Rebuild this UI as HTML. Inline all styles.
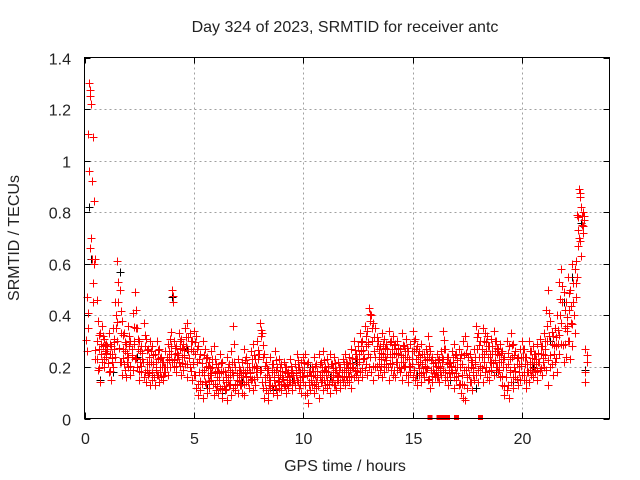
<!DOCTYPE html>
<html><head><meta charset="utf-8"><style>
body{margin:0;background:#fff;}
svg{display:block;font-family:"Liberation Sans",sans-serif;}
</style></head><body>
<svg id="chart" width="640" height="480" xmlns="http://www.w3.org/2000/svg">
<text x="345" y="32" font-size="16" text-anchor="middle" fill="#222">Day 324 of 2023, SRMTID for receiver antc</text>
<text transform="translate(19,238) rotate(-90)" font-size="16" text-anchor="middle" fill="#222">SRMTID / TECUs</text>
<text x="345" y="471" font-size="16" text-anchor="middle" fill="#222">GPS time / hours</text>
<g id="grid" shape-rendering="crispEdges"></g>
<g id="ticks"></g>
<g id="marks" shape-rendering="crispEdges"></g>
<rect x="84.5" y="57.5" width="525" height="361" fill="none" stroke="#000" stroke-width="1" shape-rendering="crispEdges"/>
</svg>
<script>
const xTicks=[0,5,10,15,20];
const yTicks=[0,0.2,0.4,0.6,0.8,1,1.2,1.4];
const yTickLabels=["0","0.2","0.4","0.6","0.8","1","1.2","1.4"];
const times=[0.1,0.2,0.3,0.4,0.5,0.6,0.7,0.8,0.9,1.0,1.1,1.2,1.3,1.4,1.5,1.6,1.7,1.8,1.9,2.0,2.1,2.2,2.3,2.4,2.5,2.6,2.7,2.8,2.9,3.0,3.1,3.2,3.3,3.4,3.5,3.6,3.7,3.8,3.9,4.0,4.1,4.2,4.3,4.4,4.5,4.6,4.7,4.8,4.9,5.0,5.1,5.2,5.3,5.4,5.5,5.6,5.7,5.8,5.9,6.0,6.1,6.2,6.3,6.4,6.5,6.6,6.7,6.8,6.9,7.0,7.1,7.2,7.3,7.4,7.5,7.6,7.7,7.8,7.9,8.0,8.1,8.2,8.3,8.4,8.5,8.6,8.7,8.8,8.9,9.0,9.1,9.2,9.3,9.4,9.5,9.6,9.7,9.8,9.9,10.0,10.1,10.2,10.3,10.4,10.5,10.6,10.7,10.8,10.9,11.0,11.1,11.2,11.3,11.4,11.5,11.6,11.7,11.8,11.9,12.0,12.1,12.2,12.3,12.4,12.5,12.6,12.7,12.8,12.9,13.0,13.1,13.2,13.3,13.4,13.5,13.6,13.7,13.8,13.9,14.0,14.1,14.2,14.3,14.4,14.5,14.6,14.7,14.8,14.9,15.0,15.1,15.2,15.3,15.4,15.5,15.6,15.7,15.8,15.9,16.0,16.1,16.2,16.3,16.4,16.5,16.6,16.7,16.8,16.9,17.0,17.1,17.2,17.3,17.4,17.5,17.6,17.7,17.8,17.9,18.0,18.1,18.2,18.3,18.4,18.5,18.6,18.7,18.8,18.9,19.0,19.1,19.2,19.3,19.4,19.5,19.6,19.7,19.8,19.9,20.0,20.1,20.2,20.3,20.4,20.5,20.6,20.7,20.8,20.9,21.0,21.1,21.2,21.3,21.4,21.5,21.6,21.7,21.8,21.9,22.0,22.1,22.2,22.3,22.4,22.5,22.6,22.7,22.8,22.9];
const redUpper=[0.47,1.30,1.22,1.09,0.62,0.38,0.33,0.36,0.31,0.29,
0.33,0.28,0.35,0.45,0.61,0.50,0.38,0.33,0.29,0.36,
0.30,0.41,0.49,0.35,0.30,0.28,0.37,0.31,0.27,0.30,
0.28,0.25,0.30,0.27,0.24,0.22,0.26,0.29,0.31,0.50,
0.30,0.28,0.33,0.31,0.29,0.35,0.37,0.33,0.30,0.34,
0.32,0.28,0.25,0.30,0.27,0.24,0.22,0.26,0.28,0.21,
0.20,0.25,0.22,0.18,0.24,0.21,0.26,0.36,0.20,0.23,
0.19,0.22,0.27,0.24,0.20,0.26,0.29,0.23,0.30,0.37,
0.33,0.25,0.22,0.19,0.24,0.21,0.26,0.20,0.23,0.21,
0.22,0.20,0.18,0.23,0.19,0.21,0.25,0.20,0.22,0.24,
0.25,0.22,0.18,0.20,0.24,0.21,0.25,0.22,0.26,0.20,
0.23,0.25,0.21,0.24,0.19,0.22,0.20,0.23,0.25,0.21,
0.24,0.27,0.30,0.25,0.28,0.33,0.30,0.36,0.34,0.43,
0.40,0.37,0.35,0.30,0.28,0.33,0.31,0.29,0.34,0.30,
0.32,0.29,0.30,0.27,0.33,0.28,0.31,0.26,0.29,0.34,
0.31,0.28,0.26,0.29,0.25,0.27,0.32,0.26,0.24,0.22,
0.25,0.23,0.26,0.34,0.27,0.24,0.22,0.26,0.29,0.25,
0.27,0.25,0.30,0.32,0.28,0.25,0.22,0.27,0.36,0.33,
0.30,0.35,0.33,0.32,0.28,0.31,0.34,0.30,0.27,0.29,
0.26,0.24,0.30,0.28,0.33,0.29,0.26,0.24,0.27,0.30,
0.27,0.24,0.30,0.26,0.28,0.25,0.29,0.31,0.28,0.33,
0.42,0.50,0.38,0.32,0.35,0.40,0.53,0.58,0.49,0.45,
0.55,0.50,0.60,0.58,0.79,0.89,0.82,0.80,0.27];
const redLower=[0.26,0.96,0.70,0.45,0.23,0.19,0.14,0.22,0.20,0.24,
0.18,0.15,0.20,0.24,0.30,0.22,0.17,0.21,0.16,0.20,
0.17,0.19,0.23,0.20,0.15,0.18,0.16,0.14,0.17,0.13,
0.15,0.13,0.17,0.14,0.16,0.15,0.18,0.17,0.20,0.22,
0.20,0.18,0.22,0.17,0.19,0.21,0.16,0.20,0.15,0.17,
0.12,0.09,0.11,0.08,0.14,0.10,0.12,0.15,0.09,0.11,
0.10,0.12,0.08,0.11,0.07,0.13,0.09,0.12,0.11,0.10,
0.13,0.10,0.09,0.14,0.12,0.15,0.11,0.13,0.16,0.18,
0.14,0.08,0.11,0.07,0.12,0.10,0.13,0.09,0.12,0.11,
0.13,0.10,0.12,0.14,0.11,0.13,0.15,0.12,0.10,0.14,
0.09,0.06,0.11,0.13,0.10,0.12,0.08,0.14,0.11,0.13,
0.12,0.10,0.14,0.13,0.11,0.15,0.12,0.14,0.13,0.15,
0.14,0.12,0.16,0.17,0.15,0.18,0.16,0.19,0.17,0.20,
0.18,0.15,0.20,0.17,0.19,0.16,0.18,0.20,0.15,0.19,
0.17,0.16,0.19,0.18,0.15,0.20,0.17,0.14,0.18,0.16,
0.15,0.13,0.17,0.14,0.16,0.18,0.15,0.12,0.14,0.16,
0.16,0.14,0.17,0.19,0.15,0.13,0.16,0.18,0.12,0.15,
0.13,0.10,0.08,0.07,0.12,0.14,0.11,0.15,0.17,0.14,
0.17,0.14,0.18,0.16,0.15,0.19,0.17,0.20,0.18,0.16,
0.13,0.09,0.11,0.08,0.14,0.12,0.16,0.13,0.15,0.17,
0.15,0.12,0.14,0.17,0.16,0.18,0.15,0.19,0.17,0.20,
0.19,0.13,0.20,0.17,0.22,0.18,0.25,0.29,0.22,0.24,
0.30,0.23,0.28,0.33,0.55,0.70,0.63,0.72,0.14];
const redMid=[0.35,1.25,0.62,0.60,0.30,0.27,0.25,0.28,0.26,0.27,
0.25,0.22,0.27,0.35,0.45,0.33,0.27,0.26,0.22,0.28,
0.24,0.30,0.35,0.27,0.22,0.23,0.28,0.22,0.21,0.22,
0.21,0.19,0.23,0.20,0.20,0.18,0.22,0.23,0.25,0.45,
0.25,0.23,0.27,0.24,0.24,0.28,0.26,0.27,0.22,0.25,
0.22,0.18,0.18,0.19,0.20,0.17,0.17,0.20,0.18,0.16,
0.15,0.18,0.15,0.14,0.16,0.17,0.18,0.22,0.15,0.17,
0.16,0.16,0.18,0.19,0.16,0.20,0.20,0.18,0.23,0.32,
0.24,0.16,0.17,0.13,0.18,0.15,0.19,0.14,0.17,0.16,
0.18,0.15,0.15,0.18,0.15,0.17,0.20,0.16,0.16,0.19,
0.17,0.14,0.15,0.17,0.17,0.16,0.17,0.18,0.19,0.17,
0.18,0.17,0.18,0.19,0.15,0.18,0.16,0.19,0.19,0.18,
0.19,0.20,0.23,0.21,0.22,0.26,0.23,0.28,0.25,0.38,
0.30,0.26,0.28,0.24,0.23,0.25,0.24,0.25,0.25,0.24,
0.25,0.22,0.25,0.22,0.24,0.24,0.24,0.20,0.23,0.26,
0.23,0.21,0.22,0.21,0.20,0.23,0.24,0.19,0.19,0.19,
0.20,0.18,0.22,0.27,0.21,0.19,0.19,0.22,0.20,0.20,
0.20,0.17,0.19,0.19,0.20,0.20,0.17,0.21,0.27,0.24,
0.24,0.25,0.26,0.24,0.22,0.25,0.26,0.25,0.22,0.22,
0.20,0.16,0.21,0.18,0.24,0.20,0.21,0.18,0.21,0.24,
0.21,0.18,0.22,0.21,0.22,0.21,0.22,0.25,0.22,0.27,
0.30,0.32,0.29,0.25,0.28,0.29,0.40,0.45,0.35,0.34,
0.42,0.37,0.45,0.47,0.67,0.86,0.75,0.77,0.22];
const zeroTimes=[15.8,16.2,16.4,16.6,17.0,18.1];
const blackTimes=[0.2,0.3,0.7,1.3,1.6,2.4,3.1,4.0,4.7,5.6,6.3,7.2,8.0,8.6,9.5,10.3,11.2,12.4,13.1,14.0,15.2,16.7,17.9,18.8,19.6,20.5,21.3,21.9,22.3,22.7,22.9];
const blackValues=[0.82,0.62,0.15,0.18,0.57,0.24,0.17,0.47,0.27,0.12,0.10,0.14,0.19,0.11,0.15,0.20,0.16,0.22,0.40,0.19,0.17,0.15,0.12,0.18,0.14,0.20,0.30,0.45,0.55,0.76,0.19];

const NS="http://www.w3.org/2000/svg";
const X0=84.5,X1=609.5,Y0=418.5,Y1=57.5;
function xs(t){return X0+(t/24)*(X1-X0);}
function ys(v){return Y0-(v/1.4)*(Y0-Y1);}
const grid=document.getElementById('grid'),ticks=document.getElementById('ticks'),marks=document.getElementById('marks');
function line(g,x1,y1,x2,y2,st,dash){const l=document.createElementNS(NS,'line');l.setAttribute('x1',x1);l.setAttribute('y1',y1);l.setAttribute('x2',x2);l.setAttribute('y2',y2);l.setAttribute('stroke',st);if(dash)l.setAttribute('stroke-dasharray',dash);g.appendChild(l);return l;}
function txt(g,x,y,s,anchor){const t=document.createElementNS(NS,'text');t.setAttribute('x',x);t.setAttribute('y',y);t.setAttribute('font-size','16');t.setAttribute('text-anchor',anchor);t.setAttribute('fill','#222');t.textContent=s;g.appendChild(t);return t;}
xTicks.forEach(t=>{const x=Math.round(xs(t))+0.5;
 if(t>0){const g=line(grid,x,Y1,x,Y0,'#a0a0a0','2,3');}
 const a=line(ticks,x,Y0,x,Y0-6,'#000');
 const b=line(ticks,x,Y1,x,Y1+6,'#000');
 const l=txt(ticks,x,444,String(t),'middle');});
yTicks.forEach((v,i)=>{const y=Math.round(ys(v))+0.5;
 if(v>0&&v<1.4){const g=line(grid,X0,y,X1,y,'#a0a0a0','2,3');}
 const a=line(ticks,X0,y,X0+6,y,'#000');
 const b=line(ticks,X1,y,X1-6,y,'#000');
 const l=txt(ticks,71,y+6,yTickLabels[i],'end');});
function plus(t,v,col,name){const x=Math.round(xs(t))+0.5,y=Math.round(ys(v))+0.5;const p=document.createElementNS(NS,'path');p.setAttribute('d',`M${x-4},${y}H${x+4}M${x},${y-4}V${y+4}`);p.setAttribute('stroke',col);p.setAttribute('stroke-width','1');


marks.appendChild(p);}
blackTimes.forEach((t,i)=>plus(t,blackValues[i],'#000','black-point'));
times.forEach((t,i)=>{plus(t,redUpper[i],'#ff0000','red-point');plus(t,redLower[i],'#ff0000','red-point');plus(t+0.05,redMid[i],'#ff0000','red-point');plus(t+0.05,(redMid[i]+redUpper[i])/2,'#ff0000','red-point');plus(t-0.03,(redMid[i]+redLower[i])/2,'#ff0000','red-point');});
zeroTimes.forEach(t=>{const x=xs(t);const r=document.createElementNS(NS,'rect');r.setAttribute('x',x-2.5);r.setAttribute('y',Y0-3.5);r.setAttribute('width',5);r.setAttribute('height',5);r.setAttribute('fill','#ff0000');


marks.appendChild(r);});
</script>
</body></html>
